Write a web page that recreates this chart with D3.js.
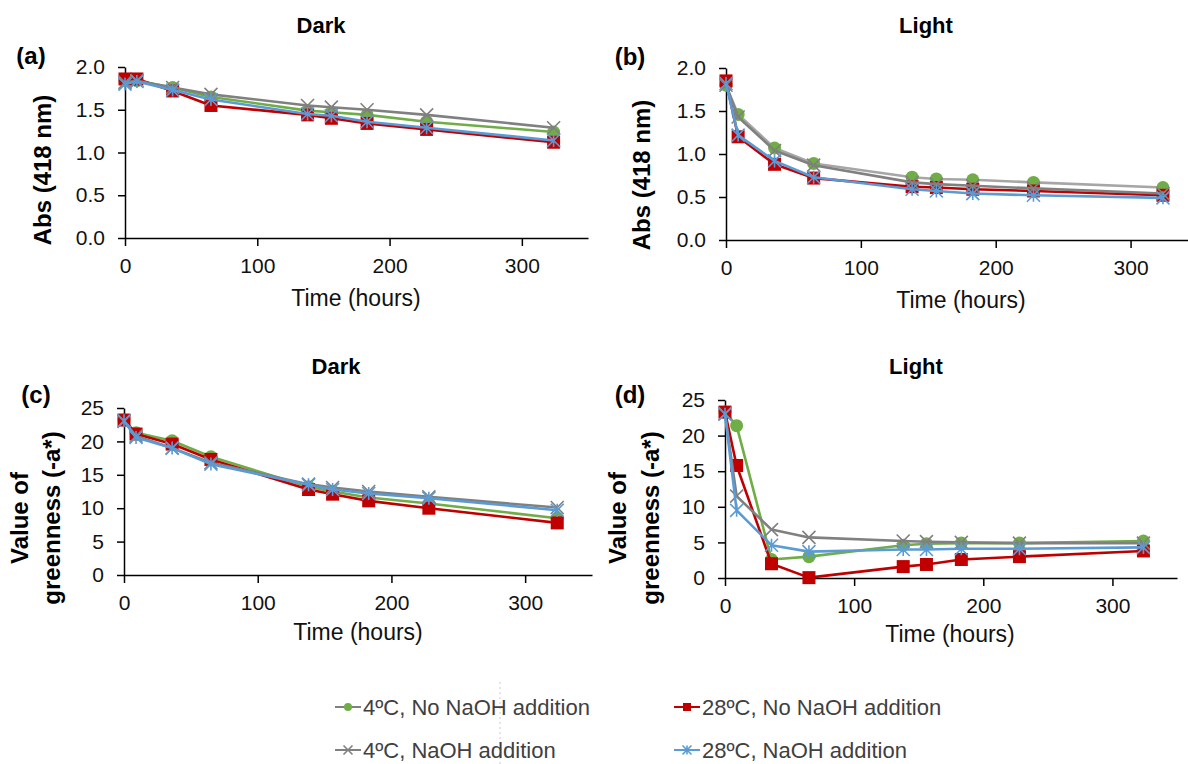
<!DOCTYPE html>
<html>
  <head>
    <meta http-equiv="Content-Type" content="text/html;charset=utf-8" />
    <title>Abs and greenness over time</title>
    <script type="text/javascript" src="https://d3js.org/d3.v7.min.js"></script>
    <style>
      body { margin: 0; background: #fff; }
      text { font-family: "Liberation Sans", Arial, sans-serif; }
    </style>
  </head>
  <body>
    <div id="chart"></div>

    <script type="text/javascript">
      // sampling times (hours), shared by every panel
      var times = [0, 9, 36, 65, 138, 156, 183, 228, 324];

      var seriesNames = [
        "4ºC, No NaOH addition",
        "28ºC, No NaOH addition",
        "4ºC, NaOH addition",
        "28ºC, NaOH addition"
      ];

      // (a) Abs 418 nm, dark
      var absDark4 = [1.84, 1.84, 1.76, 1.65, 1.49, 1.47, 1.44, 1.36, 1.24];
      var absDark28 = [1.86, 1.86, 1.72, 1.55, 1.44, 1.40, 1.34, 1.27, 1.12];
      var absDark4NaOH = [1.82, 1.84, 1.76, 1.68, 1.55, 1.53, 1.50, 1.44, 1.29];
      var absDark28NaOH = [1.80, 1.83, 1.73, 1.62, 1.45, 1.43, 1.36, 1.29, 1.14];

      // (b) Abs 418 nm, light
      var absLight4 = [1.80, 1.46, 1.07, 0.89, 0.73, 0.71, 0.70, 0.67, 0.61];
      var absLight28 = [1.85, 1.20, 0.88, 0.72, 0.62, 0.61, 0.59, 0.57, 0.52];
      var absLight4NaOH = [1.80, 1.43, 1.04, 0.87, 0.67, 0.65, 0.63, 0.60, 0.54];
      var absLight28NaOH = [1.82, 1.22, 0.92, 0.73, 0.59, 0.57, 0.54, 0.52, 0.49];

      // (c) greenness, dark
      var grDark4 = [23.2, 21.3, 20.1, 17.7, 13.2, 12.5, 11.6, 10.7, 8.5];
      var grDark28 = [23.2, 21.1, 19.6, 17.3, 12.8, 12.1, 11.1, 10.0, 7.8];
      var grDark4NaOH = [23.0, 20.8, 19.0, 16.8, 13.6, 13.1, 12.5, 11.7, 10.1];
      var grDark28NaOH = [23.1, 20.6, 19.0, 16.6, 13.5, 12.8, 12.2, 11.5, 9.7];

      // (d) greenness, light
      var grLight4 = [23.3, 21.4, 2.6, 3.0, 4.6, 4.8, 4.9, 4.9, 5.2];
      var grLight28 = [23.3, 15.8, 2.0, 0.05, 1.6, 1.9, 2.6, 3.0, 3.8];
      var grLight4NaOH = [23.1, 11.5, 6.8, 5.7, 5.2, 5.1, 5.0, 4.9, 4.9];
      var grLight28NaOH = [23.0, 9.5, 4.6, 3.7, 4.0, 4.0, 4.1, 4.1, 4.3];

      var absTicks = [0, 0.5, 1, 1.5, 2];
      var grTicks = [0, 5, 10, 15, 20, 25];
      var timeTicks = [0, 100, 200, 300];

      var W = 1188, H = 764;

      var colors = ["#70AD47", "#C00000", "#808080", "#5B9BD5"];
      var markers = ["circle", "square", "x", "star"];

      var svg = d3
        .select("#chart")
        .append("svg")
        .attr("width", W)
        .attr("height", H);

      var panels = [
        {
          label: "(a)", title: "Dark",
          x: [125, 588], y: [238, 67], yMax: 2, ticks: absTicks, fmt: d3.format(".1f"),
          data: [absDark4, absDark28, absDark4NaOH, absDark28NaOH],
          titlePos: [321, 25], labelPos: [31, 55],
          yTitle: ["Abs (418 nm)"], yTitleX: [42], yTitleY: 170,
          xTitlePos: [356, 298]
        },
        {
          label: "(b)", title: "Light",
          x: [726, 1198], y: [240, 68], yMax: 2, ticks: absTicks, fmt: d3.format(".1f"),
          data: [absLight4, absLight28, absLight4NaOH, absLight28NaOH],
          titlePos: [926, 25], labelPos: [630, 56],
          yTitle: ["Abs (418 nm)"], yTitleX: [641], yTitleY: 175,
          xTitlePos: [961, 300],
          greenLine: "#A6A6A6"
        },
        {
          label: "(c)", title: "Dark",
          x: [124, 592], y: [575, 408], yMax: 25, ticks: grTicks, fmt: d3.format("d"),
          data: [grDark4, grDark28, grDark4NaOH, grDark28NaOH],
          titlePos: [336, 366], labelPos: [36, 394],
          yTitle: ["Value of", "greenness (-a*)"], yTitleX: [19, 51], yTitleY: 518,
          xTitlePos: [358, 632]
        },
        {
          label: "(d)", title: "Light",
          x: [725, 1177], y: [578, 400], yMax: 25, ticks: grTicks, fmt: d3.format("d"),
          data: [grLight4, grLight28, grLight4NaOH, grLight28NaOH],
          titlePos: [916, 366], labelPos: [630, 394],
          yTitle: ["Value of", "greenness (-a*)"], yTitleX: [617, 650], yTitleY: 518,
          xTitlePos: [950, 634]
        }
      ];

      function drawMarker(g, type, color, cx, cy, s) {
        if (type === "circle") {
          g.append("circle").attr("cx", cx).attr("cy", cy).attr("r", s * 0.5)
            .attr("fill", color);
        } else if (type === "square") {
          g.append("rect").attr("x", cx - s / 2).attr("y", cy - s / 2)
            .attr("width", s).attr("height", s).attr("fill", color);
        } else {
          var h = s / 2;
          var p = "M" + (cx - h) + "," + (cy - h) + "L" + (cx + h) + "," + (cy + h) +
            "M" + (cx - h) + "," + (cy + h) + "L" + (cx + h) + "," + (cy - h);
          if (type === "star") p += "M" + cx + "," + (cy - h) + "L" + cx + "," + (cy + h);
          g.append("path").attr("d", p).attr("stroke", color)
            .attr("stroke-width", 1.6).attr("fill", "none");
        }
      }

      panels.forEach(function(p) {
        var x = d3.scaleLinear().domain([0, 350]).range(p.x);
        var y = d3.scaleLinear().domain([0, p.yMax]).range(p.y);
        var g = svg.append("g");

        var xAxis = d3.axisBottom(x).tickValues(timeTicks).tickSize(8)
          .tickSizeOuter(0).tickPadding(12).tickFormat(d3.format("d"));
        var yAxis = d3.axisLeft(y).tickValues(p.ticks).tickSize(7)
          .tickSizeOuter(0).tickPadding(13).tickFormat(p.fmt);

        var gx = g.append("g")
          .attr("transform", "translate(0," + p.y[0] + ")")
          .call(xAxis);
        var gy = g.append("g")
          .attr("transform", "translate(" + p.x[0] + ",0)")
          .call(yAxis);
        [gx, gy].forEach(function(a) {
          a.select(".domain").attr("stroke", "#000").attr("stroke-width", 1.5);
          a.selectAll(".tick line").attr("stroke", "#000").attr("stroke-width", 1.5);
          a.selectAll(".tick text")
            .attr("fill", "#111")
            .style("font-size", "21px")
            .style("font-family", "'Liberation Sans', Arial, sans-serif");
        });

        var line = d3.line()
          .x(function(d) { return x(d[0]); })
          .y(function(d) { return y(d[1]); });

        p.data.forEach(function(vals, si) {
          var pts = times.map(function(t, i) { return [t, vals[i]]; });
          var lc = si === 0 && p.greenLine ? p.greenLine : colors[si];
          g.append("path")
            .datum(pts)
            .attr("d", line)
            .attr("fill", "none")
            .attr("stroke", lc)
            .attr("stroke-width", 2.6)
            .attr("stroke-linejoin", "round");
          var mg = g.append("g");
          pts.forEach(function(d) {
            drawMarker(mg, markers[si], colors[si], x(d[0]), y(d[1]), 13);
          });
        });

        // titles and labels
        svg.append("text")
          .attr("x", p.titlePos[0]).attr("y", p.titlePos[1])
          .attr("text-anchor", "middle").attr("dominant-baseline", "central")
          .style("font-size", "22px").style("font-weight", "bold")
          .attr("fill", "#000").text(p.title);

        svg.append("text")
          .attr("x", p.labelPos[0]).attr("y", p.labelPos[1])
          .attr("text-anchor", "middle").attr("dominant-baseline", "central")
          .style("font-size", "24px").style("font-weight", "bold")
          .attr("fill", "#000").text(p.label);

        p.yTitle.forEach(function(t, i) {
          svg.append("text")
            .attr("transform", "translate(" + p.yTitleX[i] + "," + p.yTitleY + ") rotate(-90)")
            .attr("text-anchor", "middle").attr("dominant-baseline", "central")
            .style("font-size", "24px").style("font-weight", "bold")
            .attr("fill", "#000").text(t);
        });

        svg.append("text")
          .attr("x", p.xTitlePos[0]).attr("y", p.xTitlePos[1])
          .attr("text-anchor", "middle").attr("dominant-baseline", "central")
          .style("font-size", "23px").attr("fill", "#111")
          .text("Time (hours)");
      });

      // top of "(a)" is cut off in the original
      svg.append("rect").attr("x", 0).attr("y", 0).attr("width", 70).attr("height", 47)
        .attr("fill", "#fff");

      // faint dotted guide through the legend
      svg.append("line")
        .attr("x1", 500).attr("x2", 500).attr("y1", 682).attr("y2", H)
        .attr("stroke", "#ccc").attr("stroke-width", 1).attr("stroke-dasharray", "2 3");

      // legend
      var legendPos = [[335, 707], [674, 707], [335, 750], [674, 750]];
      var legendLine = ["#808080", colors[1], colors[2], colors[3]];
      var legend = svg.append("g");
      seriesNames.forEach(function(name, i) {
        var lx = legendPos[i][0], ly = legendPos[i][1];
        legend.append("line")
          .attr("x1", lx).attr("x2", lx + 26).attr("y1", ly).attr("y2", ly)
          .attr("stroke", legendLine[i]).attr("stroke-width", 2);
        drawMarker(legend, markers[i], colors[i], lx + 13, ly, i < 2 ? 8 : 9);
        legend.append("text")
          .attr("x", lx + 28).attr("y", ly)
          .attr("dominant-baseline", "central")
          .style("font-size", "22px").attr("fill", "#404040")
          .text(name);
      });
    </script>
  </body>
</html>
